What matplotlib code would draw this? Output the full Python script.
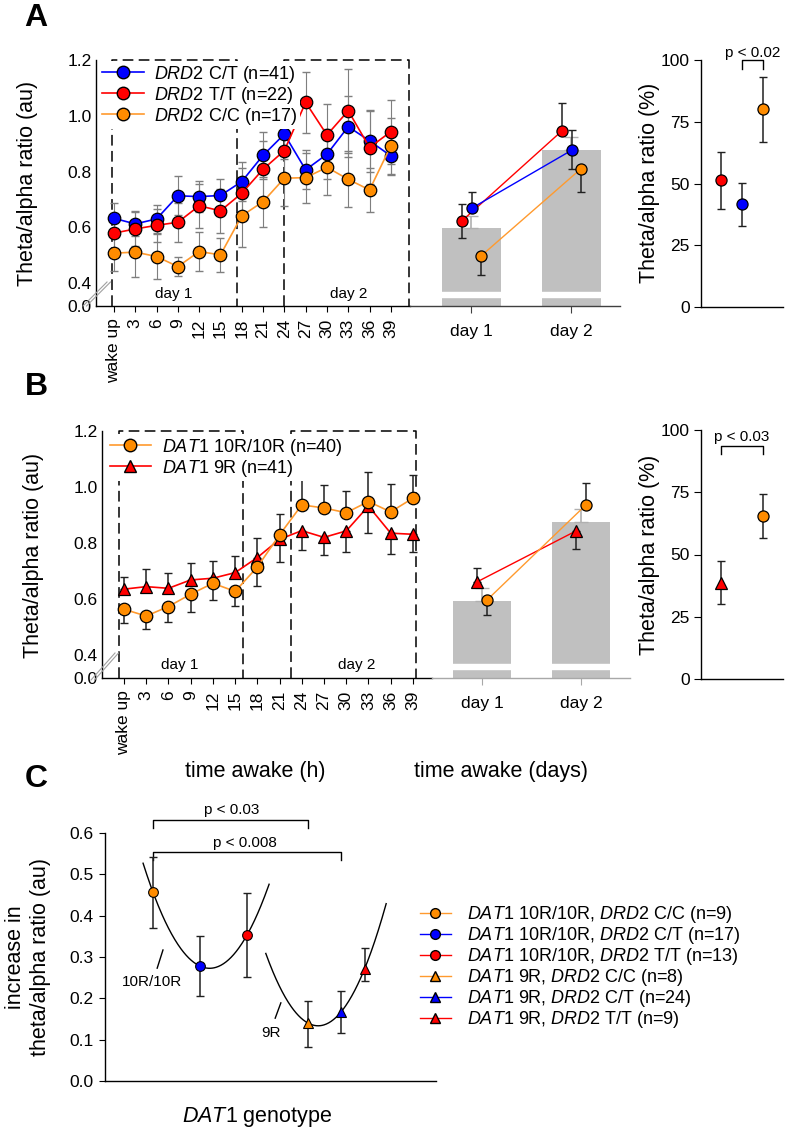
import numpy as np
import matplotlib
matplotlib.use('Agg')
import matplotlib.pyplot as plt
from matplotlib.lines import Line2D

plt.rcParams['font.family'] = ['Liberation Sans', 'DejaVu Sans']
plt.rcParams['mathtext.fontset'] = 'custom'
plt.rcParams['mathtext.rm'] = 'Liberation Sans'
plt.rcParams['mathtext.it'] = 'Liberation Sans:italic'
plt.rcParams['axes.linewidth'] = 1.0

W, H = 787, 1134

hours = ['wake up', '3', '6', '9', '12', '15', '18', '21', '24', '27', '30', '33', '36', '39']
days = ['day 1', 'day 2']

# ---- A: DRD2 ----
a_ct = [0.632, 0.612, 0.630, 0.713, 0.710, 0.714, 0.764, 0.858, 0.934, 0.806, 0.862, 0.961, 0.910, 0.856]
a_ct_err = [0.055, 0.045, 0.05, 0.07, 0.055, 0.06, 0.07, 0.085, 0.09, 0.07, 0.09, 0.11, 0.11, 0.07]
a_tt = [0.579, 0.594, 0.607, 0.618, 0.677, 0.659, 0.722, 0.808, 0.875, 1.048, 0.931, 1.018, 0.886, 0.943]
a_tt_err = [0.06, 0.06, 0.06, 0.07, 0.08, 0.08, 0.09, 0.10, 0.11, 0.11, 0.11, 0.15, 0.13, 0.115]
a_cc = [0.507, 0.511, 0.495, 0.459, 0.513, 0.501, 0.641, 0.692, 0.776, 0.778, 0.815, 0.772, 0.734, 0.892]
a_cc_err = [0.065, 0.09, 0.08, 0.035, 0.07, 0.06, 0.11, 0.09, 0.10, 0.09, 0.10, 0.10, 0.08, 0.10]

a_bar = [0.598, 0.877]
a_bar_err = [0.042, 0.047]
a_day_ct = [0.669, 0.877]
a_day_ct_lo = [0.0, 0.068]
a_day_ct_up = [0.057, 0.072]
a_day_tt = [0.623, 0.946]
a_day_tt_lo = [0.061, 0.0]
a_day_tt_up = [0.061, 0.10]
a_day_cc = [0.497, 0.81]
a_day_cc_lo = [0.068, 0.083]
a_day_cc_up = [0.0, 0.0]

a_pct = [51.3, 41.5, 80.0]      # T/T, C/T, C/C
a_pct_err = [11.5, 8.7, 13.3]

# ---- B: DAT1 ----
b_10 = [0.563, 0.539, 0.573, 0.617, 0.656, 0.627, 0.714, 0.829, 0.936, 0.925, 0.908, 0.948, 0.911, 0.960]
b_10_lo = [0.05, 0.046, 0.054, 0.062, 0.059, 0.052, 0.068, 0, 0, 0, 0, 0, 0, 0]
b_10_up = [0, 0, 0, 0, 0, 0, 0, 0.073, 0.101, 0.082, 0.079, 0.107, 0.10, 0.083]
b_9 = [0.635, 0.644, 0.638, 0.668, 0.674, 0.694, 0.748, 0.813, 0.844, 0.820, 0.843, 0.932, 0.835, 0.831]
b_9_lo = [0, 0, 0, 0, 0, 0, 0, 0.082, 0.069, 0.063, 0.074, 0.095, 0.075, 0.062]
b_9_up = [0.045, 0.062, 0.054, 0.062, 0.062, 0.058, 0.069, 0, 0, 0, 0, 0, 0, 0]

b_bar = [0.593, 0.875]
b_bar_err = [0.047, 0.045]
b_day_9 = [0.661, 0.843]
b_day_9_lo = [0.0, 0.064]
b_day_9_up = [0.05, 0.0]
b_day_10 = [0.596, 0.936]
b_day_10_lo = [0.053, 0.0]
b_day_10_up = [0.0, 0.078]

b_pct = [38.6, 65.5]            # 9R, 10R/10R
b_pct_err = [8.6, 8.7]

# ---- C: DAT1 x DRD2 ----
c_x10 = [0, 1, 2]
c_10 = [0.457, 0.278, 0.353]
c_10_lo = [0.087, 0.072, 0.101]
c_10_up = [0.085, 0.073, 0.102]
c_x9 = [3.3, 4.0, 4.5]
c_9 = [0.140, 0.167, 0.271]
c_9_lo = [0.058, 0.051, 0.029]
c_9_up = [0.054, 0.051, 0.051]
c_labels = [r'$\mathit{DAT1}$ 10R/10R, $\mathit{DRD2}$ C/C (n=9)',
            r'$\mathit{DAT1}$ 10R/10R, $\mathit{DRD2}$ C/T (n=17)',
            r'$\mathit{DAT1}$ 10R/10R, $\mathit{DRD2}$ T/T (n=13)',
            r'$\mathit{DAT1}$ 9R, $\mathit{DRD2}$ C/C (n=8)',
            r'$\mathit{DAT1}$ 9R, $\mathit{DRD2}$ C/T (n=24)',
            r'$\mathit{DAT1}$ 9R, $\mathit{DRD2}$ T/T (n=9)']

ORANGE = '#ff8c00'
ORL = '#ff9a2e'
RED = '#ff0000'
BLUE = '#0000ff'


def fwd(y):
    y = np.asarray(y, float)
    return np.where(y >= 0.4, y, 0.4 - (0.4 - y) * 0.206)


def inv(z):
    z = np.asarray(z, float)
    return np.where(z >= 0.4, z, 0.4 - (0.4 - z) / 0.206)


def pos(l, r, t, b):
    return [l / W, 1 - b / H, (r - l) / W, (b - t) / H]


def ftext(x, y, s, **kw):
    fig.text(x / W, 1 - y / H, s, **kw)


def brk(x1, y1, x2, y2):
    for d in (0, 3.5):
        fig.add_artist(Line2D([(x1 + d) / W, (x2 + d) / W], [1 - y1 / H, 1 - y2 / H],
                              color='#a0a0a0', lw=0.8))


fig = plt.figure(figsize=(W / 100, H / 100), dpi=100)
x = np.arange(len(hours))
dash = (0, (7, 3.5))


def time_axes(ax, xlim):
    ax.set_yscale('function', functions=(fwd, inv))
    ax.set_ylim(0, 1.2)
    ax.set_xlim(*xlim)
    ax.set_yticks([0, 0.4, 0.6, 0.8, 1.0, 1.2])
    ax.set_yticklabels(['0.0', '0.4', '0.6', '0.8', '1.0', '1.2'])
    ax.set_xticks(x)
    ax.set_xticklabels(hours, rotation=90, fontsize=12.5)
    ax.tick_params(axis='y', length=0, pad=3, labelsize=12.5)
    ax.tick_params(axis='x', length=4, pad=5)
    for s in ('top', 'right'):
        ax.spines[s].set_visible(False)


def boxes(ax, b1, b2):
    for x0, x1 in (b1, b2):
        ax.plot([x0, x0, x1, x1], [0, 1.2, 1.2, 0], color='k', lw=1.1,
                linestyle=dash, clip_on=False, zorder=1)


def day_axes(ax, xlim, spc):
    ax.set_yscale('function', functions=(fwd, inv))
    ax.set_ylim(0, 1.2)
    ax.set_xlim(*xlim)
    ax.set_xticks([0, 1])
    ax.set_xticklabels(days, fontsize=12.5)
    ax.set_yticks([])
    ax.tick_params(axis='x', length=5, pad=8, color=spc)
    for s in ('top', 'right', 'left'):
        ax.spines[s].set_visible(False)
    ax.spines['bottom'].set_color(spc)
    ax.patch.set_alpha(0)


def pct_axes(ax):
    ax.set_ylim(0, 100)
    ax.set_xlim(-0.95, 2.95)
    ax.set_yticks([0, 25, 50, 75, 100])
    ax.set_xticks([])
    ax.tick_params(axis='y', length=5, labelsize=12.5, pad=3)
    for s in ('top', 'right'):
        ax.spines[s].set_visible(False)


# ================= A =================
axA = fig.add_axes(pos(96, 410, 60, 306))
time_axes(axA, (-0.845, 13.9))
boxes(axA, (-0.1, 5.77), (7.98, 13.85))
for yv, ev, c, lc in ((a_ct, a_ct_err, BLUE, BLUE), (a_tt, a_tt_err, RED, RED), (a_cc, a_cc_err, ORANGE, ORL)):
    axA.errorbar(x, yv, yerr=ev, fmt='none', ecolor='#7f7f7f', elinewidth=0.8, capsize=3, zorder=2)
    axA.plot(x, yv, '-o', color=lc, lw=1.2, ms=9, mfc=c, mec='k', mew=0.9, zorder=3)
axA.text(2.8, 0.21, 'day 1', ha='center', va='center', fontsize=11)
axA.text(11.0, 0.21, 'day 2', ha='center', va='center', fontsize=11)
hA = [Line2D([], [], color=BLUE, marker='o', mfc=BLUE, mec='k', ms=9, lw=1.2),
      Line2D([], [], color=RED, marker='o', mfc=RED, mec='k', ms=9, lw=1.2),
      Line2D([], [], color=ORL, marker='o', mfc=ORANGE, mec='k', ms=9, lw=1.2)]
lA = [r'$\mathit{DRD2}$ C/T (n=41)', r'$\mathit{DRD2}$ T/T (n=22)', r'$\mathit{DRD2}$ C/C (n=17)']
legA = axA.legend(hA, lA, loc='upper left', bbox_to_anchor=(99 / W, 1 - 61 / H),
                  bbox_transform=fig.transFigure, fontsize=13, frameon=True, framealpha=1,
                  edgecolor='none', fancybox=False, borderpad=0.15, borderaxespad=0,
                  handlelength=2.35, handletextpad=0.55, labelspacing=0.0)
legA.set_zorder(5)

axAd = fig.add_axes(pos(410, 620, 60, 306))
day_axes(axAd, (-0.61, 1.49), '#404040')
axAd.bar([0, 1], a_bar, width=0.59, color='#c0c0c0', zorder=1)
axAd.errorbar([0, 1], a_bar, yerr=[[0, 0], a_bar_err], fmt='none', ecolor='#b0b0b0',
              elinewidth=1.2, capsize=5, zorder=1)
axAd.axhspan(0.16, 0.24, color='white', zorder=1.5)
for off, yv, lo, up, c, lc in ((-0.09, a_day_tt, a_day_tt_lo, a_day_tt_up, RED, RED),
                               (0.01, a_day_ct, a_day_ct_lo, a_day_ct_up, BLUE, BLUE),
                               (0.10, a_day_cc, a_day_cc_lo, a_day_cc_up, ORANGE, ORL)):
    xd = np.array([0, 1]) + off
    axAd.plot(xd, yv, color=lc, lw=1, zorder=2)
    axAd.errorbar(xd, yv, yerr=[lo, up], fmt='none', ecolor='#202020', elinewidth=1.1, capsize=3, zorder=3)
    axAd.plot(xd, yv, 'o', ms=8, mfc=c, mec='k', mew=0.9, zorder=4)

axAp = fig.add_axes(pos(701, 783, 60, 307))
pct_axes(axAp)
for i, (yv, ev, c) in enumerate(zip(a_pct, a_pct_err, (RED, BLUE, ORANGE))):
    axAp.errorbar([i], [yv], yerr=[ev], fmt='none', ecolor='#202020', elinewidth=1.1, capsize=3)
    axAp.plot([i], [yv], 'o', ms=8, mfc=c, mec='k', mew=0.9, zorder=3)
axAp.plot([1, 1, 2, 2], [96.4, 100, 100, 96.4], color='k', lw=1, clip_on=False)
axAp.text(1.5, 103, 'p < 0.02', ha='center', va='center', fontsize=11)

# ================= B =================
axB = fig.add_axes(pos(102, 432, 431, 678))
time_axes(axB, (-0.99, 13.86))
boxes(axB, (-0.22, 5.36), (7.51, 13.13))
axB.errorbar(x, b_10, yerr=[b_10_lo, b_10_up], fmt='none', ecolor='#202020', elinewidth=1.1, capsize=3, zorder=2)
axB.errorbar(x, b_9, yerr=[b_9_lo, b_9_up], fmt='none', ecolor='#202020', elinewidth=1.1, capsize=3, zorder=2)
axB.plot(x, b_9, '-^', color=RED, lw=1.2, ms=9, mfc=RED, mec='k', mew=0.9, zorder=3)
axB.plot(x, b_10, '-o', color=ORL, lw=1.2, ms=9, mfc=ORANGE, mec='k', mew=0.9, zorder=3)
axB.text(2.5, 0.226, 'day 1', ha='center', va='center', fontsize=11)
axB.text(10.45, 0.226, 'day 2', ha='center', va='center', fontsize=11)
hB = [Line2D([], [], color=ORL, marker='o', mfc=ORANGE, mec='k', ms=9, lw=1.2),
      Line2D([], [], color=RED, marker='^', mfc=RED, mec='k', ms=9, lw=1.2)]
lB = [r'$\mathit{DAT1}$ 10R/10R (n=40)', r'$\mathit{DAT1}$ 9R (n=41)']
legB = axB.legend(hB, lB, loc='upper left', bbox_to_anchor=(107 / W, 1 - 434 / H),
                  bbox_transform=fig.transFigure, fontsize=13, frameon=True, framealpha=1,
                  edgecolor='none', fancybox=False, borderpad=0.15, borderaxespad=0,
                  handlelength=2.3, handletextpad=0.6, labelspacing=0.0)
legB.set_zorder(5)

axBd = fig.add_axes(pos(432, 630, 431, 678))
day_axes(axBd, (-0.505, 1.495), '#a8a8a8')
axBd.bar([0, 1], b_bar, width=0.59, color='#c0c0c0', zorder=1)
axBd.errorbar([0, 1], b_bar, yerr=[[0, 0], b_bar_err], fmt='none', ecolor='#b0b0b0',
              elinewidth=1.2, capsize=5, zorder=1)
axBd.axhspan(0.16, 0.24, color='white', zorder=1.5)
for off, yv, lo, up, c, lc, m in ((-0.05, b_day_9, b_day_9_lo, b_day_9_up, RED, RED, '^'),
                                  (0.05, b_day_10, b_day_10_lo, b_day_10_up, ORANGE, ORL, 'o')):
    xd = np.array([0, 1]) + off
    axBd.plot(xd, yv, color=lc, lw=1, zorder=2)
    axBd.errorbar(xd, yv, yerr=[lo, up], fmt='none', ecolor='#202020', elinewidth=1.1, capsize=3, zorder=3)
    axBd.plot(xd, yv, m, ms=8, mfc=c, mec='k', mew=0.9, zorder=4)

axBp = fig.add_axes(pos(701, 783, 430, 679))
pct_axes(axBp)
for xi, yv, ev, c, m in zip([0, 2], b_pct, b_pct_err, (RED, ORANGE), ('^', 'o')):
    axBp.errorbar([xi], [yv], yerr=[ev], fmt='none', ecolor='#202020', elinewidth=1.1, capsize=3)
    axBp.plot([xi], [yv], m, ms=8, mfc=c, mec='k', mew=0.9, zorder=3)
axBp.plot([0, 0, 2, 2], [90.4, 93.6, 93.6, 90.4], color='k', lw=1, clip_on=False)
axBp.text(1, 97.2, 'p < 0.03', ha='center', va='center', fontsize=11)

# ================= C =================
axC = fig.add_axes(pos(105, 436, 833, 1081))
axC.set_ylim(0, 0.6)
axC.set_xlim(-1.02, 6.02)
axC.set_yticks(np.arange(0, 0.61, 0.1))
axC.set_yticklabels(['%.1f' % v for v in np.arange(0, 0.61, 0.1)])
axC.set_xticks([])
axC.tick_params(axis='y', length=4, labelsize=12.5, pad=4)
for s in ('top', 'right'):
    axC.spines[s].set_visible(False)

for xs_pts, ys_pts, x_rng in ((c_x10, c_10, (-0.21, 2.47)), (c_x9, c_9, (2.40, 4.96))):
    coef = np.polyfit(xs_pts, ys_pts, 2)
    xx = np.linspace(x_rng[0], x_rng[1], 200)
    axC.plot(xx, np.polyval(coef, xx), color='k', lw=1, zorder=2)

cols = (ORANGE, BLUE, RED)
for i in range(3):
    axC.errorbar([c_x10[i]], [c_10[i]], yerr=[[c_10_lo[i]], [c_10_up[i]]], fmt='none',
                 ecolor='#202020', elinewidth=1.1, capsize=3, zorder=3)
    axC.plot([c_x10[i]], [c_10[i]], 'o', ms=7, mfc=cols[i], mec='k', mew=0.8, zorder=4)
    axC.errorbar([c_x9[i]], [c_9[i]], yerr=[[c_9_lo[i]], [c_9_up[i]]], fmt='none',
                 ecolor='#202020', elinewidth=1.1, capsize=3, zorder=3)
    axC.plot([c_x9[i]], [c_9[i]], '^', ms=7, mfc=cols[i], mec='k', mew=0.8, zorder=4)

axC.plot([0, 0, 3.3, 3.3], [0.612, 0.632, 0.632, 0.612], color='k', lw=1, clip_on=False)
axC.text(1.68, 0.655, 'p < 0.03', ha='center', va='center', fontsize=11)
axC.plot([0, 0, 4.0, 4.0], [0.535, 0.554, 0.554, 0.535], color='k', lw=1, clip_on=False)
axC.text(1.96, 0.577, 'p < 0.008', ha='center', va='center', fontsize=11)
axC.plot([0.213, 0.09], [0.317, 0.273], color='k', lw=1)
axC.text(-0.02, 0.24, '10R/10R', ha='center', va='center', fontsize=11)
axC.plot([2.72, 2.60], [0.189, 0.152], color='k', lw=1)
axC.text(2.51, 0.116, '9R', ha='center', va='center', fontsize=11)

hC = []
for m in ('o', '^'):
    for fc, lc in ((ORANGE, ORL), (BLUE, BLUE), (RED, RED)):
        hC.append(Line2D([], [], color=lc, marker=m, mfc=fc, mec='k', ms=7, lw=1))
axC.legend(hC, c_labels, loc='upper left', bbox_to_anchor=(420 / W, 1 - 904 / H),
           bbox_transform=fig.transFigure, fontsize=13, frameon=False, borderpad=0,
           borderaxespad=0, handlelength=1.7, handletextpad=0.9, labelspacing=0.0)

# ---- labels ----
ftext(27, 183, 'Theta/alpha ratio (au)', rotation=90, ha='center', va='center', fontsize=15.5)
ftext(34, 555, 'Theta/alpha ratio (au)', rotation=90, ha='center', va='center', fontsize=15.5)
ftext(650, 183, 'Theta/alpha ratio (%)', rotation=90, ha='center', va='center', fontsize=15.5)
ftext(650, 555, 'Theta/alpha ratio (%)', rotation=90, ha='center', va='center', fontsize=15.5)
ftext(255, 772, 'time awake (h)', ha='center', va='center', fontsize=15.5)
ftext(501, 772, 'time awake (days)', ha='center', va='center', fontsize=15.5)
ftext(28, 957, 'increase in\ntheta/alpha ratio (au)', rotation=90, ha='center', va='center',
      fontsize=15.5, multialignment='center')
ftext(257, 1117, r'$\mathit{DAT1}$ genotype', ha='center', va='center', fontsize=15.5)
ftext(36, 18, 'A', ha='center', va='center', fontsize=23, fontweight='bold')
ftext(36, 387, 'B', ha='center', va='center', fontsize=23, fontweight='bold')
ftext(36, 779, 'C', ha='center', va='center', fontsize=23, fontweight='bold')

brk(83, 306, 107, 282)
brk(91, 680, 115, 653)

fig.savefig('out.png', dpi=100)
